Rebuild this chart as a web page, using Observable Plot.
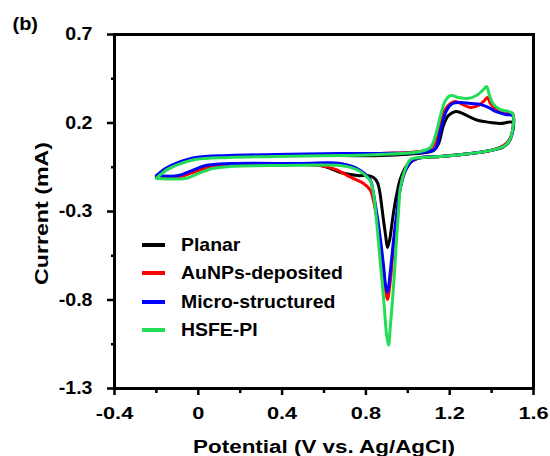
<!DOCTYPE html>
<html>
<head>
<meta charset="utf-8">
<script src="https://cdn.jsdelivr.net/npm/d3@7"></script>
<script src="https://cdn.jsdelivr.net/npm/@observablehq/plot@0.6"></script>
<style>
html, body { margin: 0; padding: 0; background: #fff; }
#wrap { position: relative; width: 550px; height: 456px; font-family: "Liberation Sans", Arial, sans-serif; }
#wrap svg { position: absolute; left: 0; top: 0; }
.swatch { position: absolute; width: 23px; height: 4px; }
.ltext { position: absolute; font-weight: bold; font-size: 18.5px; line-height: 20px; white-space: nowrap; color: #000; transform-origin: left center; transform: scaleX(1.05); }
</style>
</head>
<body>
<div id="wrap"></div>
<script>
// ---- chart data (Potential in V vs Ag/AgCl, Current in mA) ----
const seriesNames = ["Planar", "AuNPs-deposited", "Micro-structured", "HSFE-PI"];
const seriesColors = ["#000000", "#ff0000", "#0000ff", "#22dd55"];

const xTicks = [-0.4, 0, 0.4, 0.8, 1.2, 1.6];
const xMinorTicks = [-0.2, 0.2, 0.6, 1.0, 1.4];
const yTicks = [-1.3, -0.8, -0.3, 0.2, 0.7];
const yMinorTicks = [-1.05, -0.55, -0.05, 0.45];

const xLabel = "Potential (V vs. Ag/AgCl)";
const yLabel = "Current (mA)";
const panelLabel = "(b)";

// each point: [potential, current]; forward scan then reverse scan
const planar = [
  [-0.200,-0.102],[-0.157,-0.068],[-0.095,-0.029],[-0.013,-0.001],[0.144,0.011],[0.368,0.016],
  [0.679,0.016],[0.870,0.016],[1.084,0.033],[1.123,0.045],[1.147,0.084],[1.170,0.186],
  [1.194,0.242],[1.228,0.265],[1.252,0.259],[1.290,0.237],[1.337,0.214],[1.395,0.203],
  [1.442,0.197],[1.500,0.203],
  [1.495,0.129],[1.481,0.090],[1.452,0.062],[1.395,0.045],[1.299,0.028],[1.156,0.011],
  [1.046,-0.001],[0.999,-0.034],[0.965,-0.113],[0.946,-0.209],[0.932,-0.305],[0.922,-0.390],
  [0.913,-0.463],[0.903,-0.503],[0.894,-0.435],[0.884,-0.350],[0.874,-0.255],[0.865,-0.181],
  [0.855,-0.136],[0.836,-0.108],[0.808,-0.097],[0.760,-0.097],[0.679,-0.080],[0.631,-0.057],
  [0.583,-0.040],[0.488,-0.034],[0.154,-0.034],[0.034,-0.051],[-0.037,-0.080],[-0.095,-0.102],
  [-0.200,-0.102]
];
const auNPs = [
  [-0.200,-0.105],[-0.157,-0.062],[-0.095,-0.029],[-0.013,-0.001],[0.144,0.011],[0.368,0.016],
  [0.679,0.022],[0.870,0.028],[1.084,0.045],[1.123,0.073],[1.147,0.158],[1.175,0.271],
  [1.204,0.310],[1.228,0.321],[1.261,0.305],[1.299,0.288],[1.337,0.299],[1.366,0.327],
  [1.380,0.344],[1.395,0.310],[1.428,0.271],[1.466,0.259],[1.500,0.254],
  [1.500,0.158],[1.485,0.107],[1.457,0.073],[1.395,0.045],[1.299,0.028],[1.156,0.011],
  [1.061,0.005],[1.022,-0.012],[0.989,-0.068],[0.965,-0.164],[0.951,-0.294],[0.932,-0.491],
  [0.917,-0.689],[0.903,-0.797],[0.894,-0.746],[0.884,-0.633],[0.870,-0.491],[0.855,-0.362],
  [0.836,-0.238],[0.822,-0.181],[0.789,-0.142],[0.750,-0.119],[0.712,-0.097],[0.655,-0.062],
  [0.583,-0.040],[0.488,-0.034],[0.154,-0.034],[0.034,-0.057],[-0.028,-0.080],[-0.085,-0.102],
  [-0.200,-0.105]
];
const microStructured = [
  [-0.200,-0.097],[-0.157,-0.057],[-0.095,-0.023],[-0.013,0.005],[0.144,0.016],[0.368,0.022],
  [0.679,0.028],[0.870,0.028],[1.099,0.039],[1.132,0.056],[1.156,0.158],[1.185,0.271],
  [1.213,0.310],[1.252,0.316],[1.299,0.310],[1.347,0.305],[1.385,0.288],[1.419,0.265],
  [1.466,0.248],[1.500,0.242],
  [1.500,0.146],[1.485,0.101],[1.457,0.067],[1.395,0.045],[1.299,0.028],[1.156,0.011],
  [1.061,0.005],[1.022,-0.012],[0.989,-0.068],[0.965,-0.164],[0.951,-0.277],[0.932,-0.463],
  [0.917,-0.633],[0.903,-0.757],[0.894,-0.717],[0.884,-0.605],[0.870,-0.463],[0.855,-0.334],
  [0.836,-0.198],[0.822,-0.125],[0.774,-0.068],[0.679,-0.029],[0.488,-0.029],[0.154,-0.029],
  [0.034,-0.040],[-0.028,-0.068],[-0.095,-0.097],[-0.200,-0.097]
];
const hsfePI = [
  [-0.200,-0.113],[-0.180,-0.091],[-0.147,-0.062],[-0.095,-0.034],[-0.013,-0.006],[0.144,0.005],
  [0.368,0.011],[0.679,0.016],[0.870,0.022],[1.061,0.039],[1.108,0.062],[1.132,0.129],
  [1.156,0.242],[1.180,0.327],[1.204,0.355],[1.242,0.344],[1.285,0.338],[1.328,0.355],
  [1.357,0.384],[1.376,0.406],[1.390,0.355],[1.409,0.305],[1.442,0.276],[1.500,0.254],
  [1.500,0.158],[1.485,0.101],[1.457,0.067],[1.395,0.045],[1.299,0.028],[1.156,0.011],
  [1.061,0.005],[1.013,-0.006],[0.989,-0.057],[0.965,-0.164],[0.956,-0.294],[0.946,-0.463],
  [0.937,-0.633],[0.927,-0.802],[0.917,-0.943],[0.908,-1.056],[0.898,-0.988],[0.889,-0.858],
  [0.879,-0.717],[0.870,-0.605],[0.855,-0.407],[0.846,-0.294],[0.836,-0.198],[0.822,-0.130],
  [0.798,-0.097],[0.774,-0.074],[0.726,-0.051],[0.679,-0.040],[0.392,-0.040],[0.154,-0.045],
  [0.068,-0.057],[0.001,-0.085],[-0.061,-0.113],[-0.200,-0.113]
];

// ---- build table ----
const seriesData = [planar, auNPs, microStructured, hsfePI];
const rows = [];
seriesData.forEach((pts, i) => pts.forEach(([v, c]) => rows.push({series: seriesNames[i], V: v, I: c})));

const font = "'Liberation Sans', Arial, Helvetica, sans-serif";
const fmtX = d => d === 0 ? "0" : d.toFixed(1);
const fmtY = d => d.toFixed(1);

const chart = Plot.plot({
  width: 550,
  height: 456,
  marginLeft: 114,
  marginRight: 17,
  marginTop: 34,
  marginBottom: 68,
  style: {fontFamily: font, background: "#fff", color: "#000"},
  x: {domain: [-0.4, 1.6], label: null},
  y: {domain: [-1.3, 0.7], label: null},
  color: {domain: seriesNames, range: seriesColors},
  marks: [
    Plot.line(rows, {x: "V", y: "I", z: "series", stroke: "series", strokeWidth: 3, curve: "catmull-rom"}),
    Plot.frame({stroke: "#000", strokeWidth: 3}),
    Plot.axisX({ticks: xMinorTicks, tickSize: 5, tickFormat: () => "", label: null, strokeWidth: 2.5}),
    Plot.axisX({ticks: xTicks, tickSize: 7, tickPadding: 11, tickFormat: fmtX, label: null,
      fontSize: 17, fontWeight: "bold", strokeWidth: 2.5}),
    Plot.axisY({ticks: yMinorTicks, tickSize: 3, tickFormat: () => "", label: null, strokeWidth: 2.5}),
    Plot.axisY({ticks: yTicks, tickSize: 7, tickPadding: 15, tickFormat: fmtY, label: null,
      fontSize: 17.5, fontWeight: "bold", strokeWidth: 2.5}),
    Plot.text([xLabel], {frameAnchor: "bottom", dy: 58, lineAnchor: "middle", textAnchor: "middle",
      fontSize: 19, fontWeight: "bold"}),
    Plot.text([yLabel], {frameAnchor: "left", dx: -73, dy: 2, rotate: -90, lineAnchor: "middle", textAnchor: "middle",
      fontSize: 19, fontWeight: "bold"}),
    Plot.text([panelLabel], {frameAnchor: "top-left", dx: -102, dy: -10, lineAnchor: "middle", textAnchor: "start",
      fontSize: 18.5, fontWeight: "bold"})
  ]
});

// horizontally widen text like the original artwork
function stretch(el, s) {
  const t = el.getAttribute("transform");
  if (t) el.setAttribute("transform", t + ` scale(${s},1)`);
  else {
    const x = +(el.getAttribute("x") || 0), y = +(el.getAttribute("y") || 0);
    el.setAttribute("transform", `translate(${x},${y}) scale(${s},1) translate(${-x},${-y})`);
  }
}
chart.querySelectorAll('g[aria-label="x-axis tick label"] text').forEach(t => stretch(t, 1.28));
chart.querySelectorAll('g[aria-label="y-axis tick label"] text').forEach(t => stretch(t, 1.12));
chart.querySelectorAll("text").forEach(t => {
  const s = t.textContent;
  if (s === xLabel) stretch(t, 1.18);
  else if (s === yLabel) stretch(t, 1.22);
  else if (s === panelLabel) stretch(t, 1.08);
});

const wrap = document.getElementById("wrap");
wrap.appendChild(chart);

// legend
const legendLeft = 142, legendTextLeft = 181, legendTop = 244.5, legendStep = 28.6;
seriesNames.forEach((name, i) => {
  const cy = legendTop + i * legendStep;
  const sw = document.createElement("div");
  sw.className = "swatch";
  sw.style.left = legendLeft + "px";
  sw.style.top = (cy - 2) + "px";
  sw.style.background = seriesColors[i];
  wrap.appendChild(sw);
  const tx = document.createElement("div");
  tx.className = "ltext";
  tx.style.left = legendTextLeft + "px";
  tx.style.top = (cy - 10) + "px";
  tx.textContent = name;
  wrap.appendChild(tx);
});
</script>
</body>
</html>
